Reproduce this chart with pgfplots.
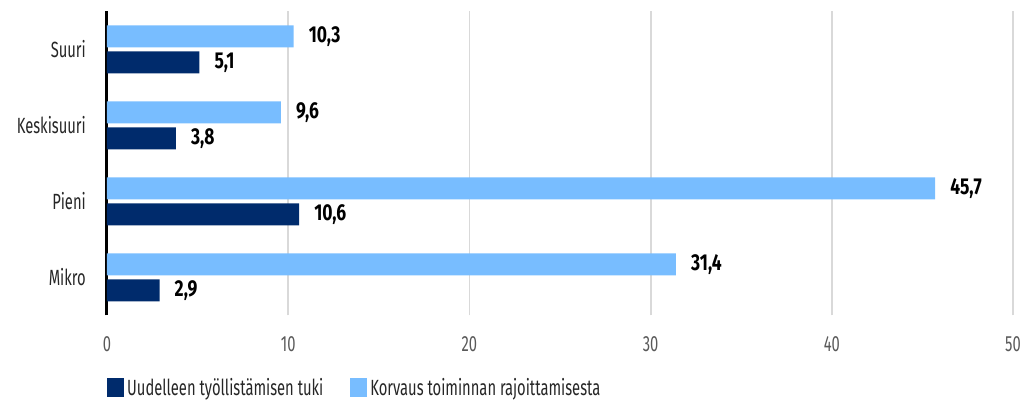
\documentclass[border=0pt]{standalone}
\usepackage{fontspec}
\setmainfont{Fira Sans}[FakeStretch=0.67]
\newfontfamily\numfont{Fira Sans}[FakeStretch=0.76]
\usepackage{pgfplots}
\pgfplotsset{compat=1.18}
\definecolor{darkbar}{HTML}{002B6C}
\definecolor{lightbar}{HTML}{78BDFF}
\definecolor{gridgray}{HTML}{D9D9D9}
\definecolor{tickgray}{HTML}{595959}
\definecolor{labblack}{HTML}{262626}
\newcommand\lab{\fontsize{22}{26}\selectfont}
\newcommand\blab{\numfont\fontsize{23}{27}\selectfont\bfseries}
\begin{document}
\begin{tikzpicture}
\useasboundingbox (0,0) rectangle (1026pt,401pt);
\begin{axis}[
  at={(107pt,85.5pt)}, anchor=south west,
  scale only axis, width=906pt, height=304pt,
  xmin=0, xmax=50, ymin=-0.5, ymax=3.5,
  xtick={0,10,20,30,40,50},
  ytick={0,1,2,3},
  yticklabels={Mikro,Pieni,Keskisuuri,Suuri},
  major tick length=0pt,
  xmajorgrids, grid style={gridgray, line width=1.8pt},
  axis lines*=left,
  x axis line style={draw=none},
  y axis line style={black, line width=3pt},
  /pgf/number format/assume math mode=true,
  xticklabel style={font=\lab, text=tickgray, inner sep=0pt, anchor=north, yshift=-20.5pt},
  yticklabel style={font=\lab, text=labblack, inner sep=0pt, anchor=east, xshift=-21pt},
  xbar, bar width=22pt,
  nodes near coords,
  nodes near coords style={font=\blab, text=black, inner sep=0pt, anchor=west, xshift=15pt,
    /pgf/number format/.cd, fixed, fixed zerofill, precision=1, use comma},
  legend columns=2,
  legend style={draw=none, fill=none, at={(0,-0.237)}, anchor=west, inner sep=0pt,
    font=\lab, text=labblack,
    nodes={inner xsep=3pt, inner ysep=0pt},
    /tikz/every even column/.append style={column sep=24pt}},
  legend image code/.code={\draw[#1, draw=none] (0pt,-9.5pt) rectangle (17pt,9.5pt);},
]
\addplot[fill=darkbar, draw=none, bar shift=-13pt] coordinates {(2.9,0) (10.6,1) (3.8,2) (5.1,3)};
\addlegendentry{Uudelleen työllistämisen tuki}
\addplot[fill=lightbar, draw=none, bar shift=13pt] coordinates {(31.4,0) (45.7,1) (9.6,2) (10.3,3)};
\addlegendentry{Korvaus toiminnan rajoittamisesta}
\end{axis}
\end{tikzpicture}
\end{document}
